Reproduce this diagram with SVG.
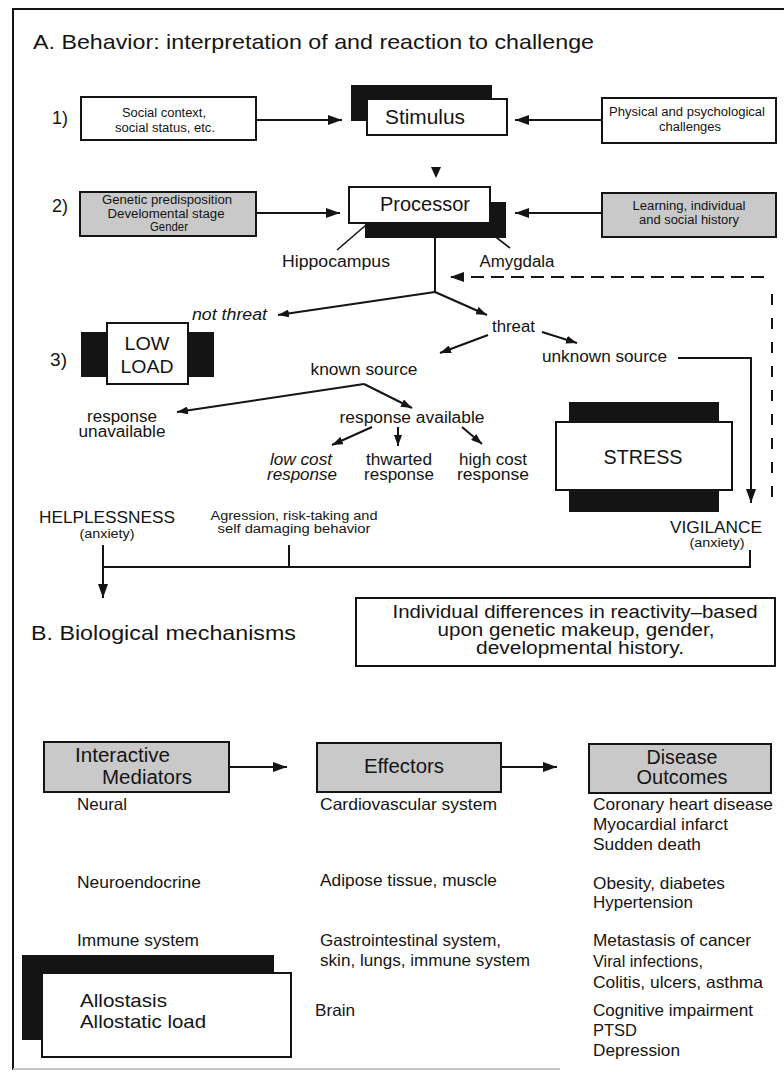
<svg xmlns="http://www.w3.org/2000/svg" width="784" height="1079" viewBox="0 0 784 1079">
<defs>
<style>
text{font-family:"Liberation Sans",Arial,Helvetica,sans-serif;fill:#141414;}
.t20{font-size:21px}
.t19{font-size:20px}
.t18{font-size:19px}
.t17{font-size:18px}
.t15{font-size:16px}
.t16{font-size:16.5px}
.t12{font-size:12.5px}
.t11{font-size:12px}
.it{font-style:italic}
.m{text-anchor:middle}
.box{fill:#fff;stroke:#141414;stroke-width:2}
.gbox{fill:#c9c9c9;stroke:#141414;stroke-width:2}
.blk{fill:#141414}
.ln{fill:none;stroke:#141414;stroke-width:2}
.ln15{fill:none;stroke:#141414;stroke-width:1.6}
.dash{fill:none;stroke:#141414;stroke-width:2}
</style>
<marker id="big" viewBox="0 0 14 10" refX="14" refY="5" markerWidth="14" markerHeight="10" markerUnits="userSpaceOnUse" orient="auto"><path d="M0,0 L14,5 L0,10 z" fill="#141414"/></marker>
<marker id="sm" viewBox="0 0 11 8" refX="11" refY="4" markerWidth="11" markerHeight="8" markerUnits="userSpaceOnUse" orient="auto"><path d="M0,0 L11,4 L0,8 z" fill="#141414"/></marker>
</defs>
<rect width="784" height="1079" fill="#fff"/>
<g id="frame">
<path d="M784,9 H13 V1070" fill="none" stroke="#141414" stroke-width="2"/>
<path d="M13,1069 H560" fill="none" stroke="#c4c4c4" stroke-width="2"/>
</g>
<g id="titles">
<text class="t20" x="33" y="49" textLength="561" lengthAdjust="spacingAndGlyphs">A. Behavior: interpretation of and reaction to challenge</text>
<text class="t17" x="52" y="124" textLength="16" lengthAdjust="spacingAndGlyphs">1)</text>
<text class="t17" x="52" y="212" textLength="16" lengthAdjust="spacingAndGlyphs">2)</text>
<text class="t17" x="50" y="366" textLength="17" lengthAdjust="spacingAndGlyphs">3)</text>
<text class="t20" x="31" y="640" textLength="265" lengthAdjust="spacingAndGlyphs">B. Biological mechanisms</text>
</g>
<g id="connectors">
<line class="ln" x1="256" y1="120" x2="342" y2="120" marker-end="url(#big)"/>
<line class="ln" x1="602" y1="120" x2="515" y2="120" marker-end="url(#big)"/>
<polygon points="431,167 441,167 436,178" fill="#141414"/>
<line class="ln" x1="256" y1="213" x2="340" y2="213" marker-end="url(#big)"/>
<line class="ln" x1="602" y1="213" x2="515" y2="213" marker-end="url(#big)"/>
<line class="ln15" x1="380" y1="213" x2="337" y2="250"/>
<line class="ln15" x1="470" y1="217" x2="510" y2="248"/>
<line class="ln" x1="435" y1="238" x2="435" y2="292"/>
<line class="ln" x1="435" y1="292" x2="278" y2="315" marker-end="url(#sm)"/>
<line class="ln" x1="435" y1="292" x2="487" y2="315" marker-end="url(#sm)"/>
<line class="ln" x1="488" y1="335" x2="440" y2="353" marker-end="url(#sm)"/>
<line class="ln" x1="542" y1="332" x2="577" y2="343" marker-end="url(#sm)"/>
<path class="ln" d="M678,358 H751 V503" marker-end="url(#big)"/>
<path class="dash" d="M772,497 V281" stroke-dasharray="11,13"/>
<path class="dash" d="M764,277 H450" stroke-dasharray="13,7" marker-end="url(#big)"/>
<line class="ln" x1="364" y1="384" x2="177" y2="412" marker-end="url(#sm)"/>
<line class="ln" x1="364" y1="384" x2="412" y2="408" marker-end="url(#sm)"/>
<line class="ln" x1="372" y1="427" x2="332" y2="445" marker-end="url(#sm)"/>
<line class="ln" x1="398" y1="427" x2="398" y2="446" marker-end="url(#sm)"/>
<line class="ln" x1="462" y1="427" x2="482" y2="444" marker-end="url(#sm)"/>
<path class="ln" d="M103,545 V598" marker-end="url(#big)"/>
<path class="ln" d="M103,567 H750 V550"/>
<path class="ln" d="M289,545 V567"/>
<line class="ln" x1="229" y1="767" x2="287" y2="767" marker-end="url(#big)"/>
<line class="ln" x1="501" y1="767" x2="557" y2="767" marker-end="url(#big)"/>
</g>
<g id="social">
<rect class="box" x="81" y="97" width="175" height="43"/>
<text class="t12 m" x="164" y="117" textLength="84" lengthAdjust="spacingAndGlyphs">Social context,</text>
<text class="t12 m" x="165" y="132" textLength="100" lengthAdjust="spacingAndGlyphs">social status, etc.</text>
</g>
<g id="stimulus">
<rect class="blk" x="351" y="85" width="141" height="36"/>
<rect class="box" x="367" y="99" width="140" height="36"/>
<text class="t19 m" x="425" y="124" textLength="80" lengthAdjust="spacingAndGlyphs">Stimulus</text>
</g>
<g id="physical">
<rect class="box" x="602" y="98" width="174" height="45"/>
<text class="t12 m" x="687" y="116" textLength="156" lengthAdjust="spacingAndGlyphs">Physical and psychological</text>
<text class="t12 m" x="690" y="131" textLength="62" lengthAdjust="spacingAndGlyphs">challenges</text>
</g>
<g id="genetic">
<rect class="gbox" x="80" y="192" width="176" height="44"/>
<text class="t12 m" x="167" y="204" textLength="130" lengthAdjust="spacingAndGlyphs">Genetic predisposition</text>
<text class="t12 m" x="166" y="218" textLength="117" lengthAdjust="spacingAndGlyphs">Develomental stage</text>
<text class="t12 m" x="169" y="231" textLength="38" lengthAdjust="spacingAndGlyphs">Gender</text>
</g>
<g id="processor">
<rect class="blk" x="365" y="202" width="141" height="36"/>
<rect class="box" x="349" y="187" width="141" height="36"/>
<text class="t19 m" x="425" y="211" textLength="90" lengthAdjust="spacingAndGlyphs">Processor</text>
</g>
<g id="learning">
<rect class="gbox" x="602" y="193" width="174" height="44"/>
<text class="t12 m" x="689" y="210" textLength="113" lengthAdjust="spacingAndGlyphs">Learning, individual</text>
<text class="t12 m" x="689" y="224" textLength="100" lengthAdjust="spacingAndGlyphs">and social history</text>
</g>
<g id="hippocampus">
<text class="t15 m" x="336" y="267" textLength="108" lengthAdjust="spacingAndGlyphs">Hippocampus</text>
</g>
<g id="amygdala">
<text class="t15 m" x="517" y="267" textLength="75" lengthAdjust="spacingAndGlyphs">Amygdala</text>
</g>
<g id="notthreat">
<text class="t15 it" x="192" y="320" textLength="75" lengthAdjust="spacingAndGlyphs">not threat</text>
</g>
<g id="threat">
<text class="t15" x="492" y="332" textLength="43" lengthAdjust="spacingAndGlyphs">threat</text>
</g>
<g id="unknown">
<text class="t15" x="542" y="362" textLength="125" lengthAdjust="spacingAndGlyphs">unknown source</text>
</g>
<g id="lowload">
<rect class="blk" x="81" y="332" width="133" height="45"/>
<rect class="box" x="107" y="323" width="81" height="61"/>
<text class="t18 m" x="147" y="350" textLength="45" lengthAdjust="spacingAndGlyphs">LOW</text>
<text class="t18 m" x="147" y="373" textLength="53" lengthAdjust="spacingAndGlyphs">LOAD</text>
</g>
<g id="known">
<text class="t15 m" x="364" y="375" textLength="107" lengthAdjust="spacingAndGlyphs">known source</text>
</g>
<g id="unavailable">
<text class="t15 m" x="122" y="422" textLength="70" lengthAdjust="spacingAndGlyphs">response</text>
<text class="t15 m" x="122" y="437" textLength="87" lengthAdjust="spacingAndGlyphs">unavailable</text>
</g>
<g id="available">
<text class="t15 m" x="412" y="423" textLength="145" lengthAdjust="spacingAndGlyphs">response available</text>
</g>
<g id="lowcost">
<text class="t15 m it" x="301" y="465" textLength="62" lengthAdjust="spacingAndGlyphs">low cost</text>
<text class="t15 m it" x="302" y="480" textLength="70" lengthAdjust="spacingAndGlyphs">response</text>
</g>
<g id="thwarted">
<text class="t15 m" x="399" y="465" textLength="66" lengthAdjust="spacingAndGlyphs">thwarted</text>
<text class="t15 m" x="399" y="480" textLength="70" lengthAdjust="spacingAndGlyphs">response</text>
</g>
<g id="highcost">
<text class="t15 m" x="493" y="465" textLength="68" lengthAdjust="spacingAndGlyphs">high cost</text>
<text class="t15 m" x="493" y="480" textLength="72" lengthAdjust="spacingAndGlyphs">response</text>
</g>
<g id="stress">
<rect class="blk" x="569" y="402" width="150" height="110"/>
<rect class="box" x="556" y="422" width="176" height="68"/>
<text class="t19 m" x="643" y="464" textLength="79" lengthAdjust="spacingAndGlyphs">STRESS</text>
</g>
<g id="helplessness">
<text class="t15 m" x="107" y="523" textLength="136" lengthAdjust="spacingAndGlyphs">HELPLESSNESS</text>
<text class="t11 m" x="107" y="538" textLength="55" lengthAdjust="spacingAndGlyphs">(anxiety)</text>
</g>
<g id="agression">
<text class="t12 m" x="294" y="520" textLength="167" lengthAdjust="spacingAndGlyphs">Agression, risk-taking and</text>
<text class="t12 m" x="294" y="533" textLength="153" lengthAdjust="spacingAndGlyphs">self damaging behavior</text>
</g>
<g id="vigilance">
<text class="t15 m" x="716" y="533" textLength="92" lengthAdjust="spacingAndGlyphs">VIGILANCE</text>
<text class="t11 m" x="717" y="547" textLength="55" lengthAdjust="spacingAndGlyphs">(anxiety)</text>
</g>
<g id="individual">
<rect class="box" x="356" y="598" width="419" height="68"/>
<text class="t17 m" x="575" y="618" textLength="365" lengthAdjust="spacingAndGlyphs">Individual differences in reactivity–based</text>
<text class="t17 m" x="576" y="636" textLength="277" lengthAdjust="spacingAndGlyphs">upon genetic makeup, gender,</text>
<text class="t17 m" x="580" y="654" textLength="208" lengthAdjust="spacingAndGlyphs">developmental history.</text>
</g>
<g id="mediators">
<rect class="gbox" x="44" y="742" width="185" height="50"/>
<text class="t19" x="75" y="762" textLength="95" lengthAdjust="spacingAndGlyphs">Interactive</text>
<text class="t19" x="102" y="784" textLength="90" lengthAdjust="spacingAndGlyphs">Mediators</text>
<text class="t16" x="77" y="810" textLength="50" lengthAdjust="spacingAndGlyphs">Neural</text>
<text class="t16" x="77" y="888" textLength="124" lengthAdjust="spacingAndGlyphs">Neuroendocrine</text>
<text class="t16" x="77" y="946" textLength="122" lengthAdjust="spacingAndGlyphs">Immune system</text>
</g>
<g id="effectors">
<rect class="gbox" x="317" y="743" width="184" height="49"/>
<text class="t19 m" x="404" y="773" textLength="80" lengthAdjust="spacingAndGlyphs">Effectors</text>
<text class="t16" x="320" y="810" textLength="177" lengthAdjust="spacingAndGlyphs">Cardiovascular system</text>
<text class="t16" x="320" y="886" textLength="177" lengthAdjust="spacingAndGlyphs">Adipose tissue, muscle</text>
<text class="t16" x="320" y="946" textLength="181" lengthAdjust="spacingAndGlyphs">Gastrointestinal system,</text>
<text class="t16" x="320" y="966" textLength="210" lengthAdjust="spacingAndGlyphs">skin, lungs, immune system</text>
<text class="t16" x="315" y="1016" textLength="40" lengthAdjust="spacingAndGlyphs">Brain</text>
</g>
<g id="outcomes">
<rect class="gbox" x="589" y="744" width="182" height="49"/>
<text class="t19 m" x="682" y="764" textLength="71" lengthAdjust="spacingAndGlyphs">Disease</text>
<text class="t19 m" x="682" y="784" textLength="91" lengthAdjust="spacingAndGlyphs">Outcomes</text>
<text class="t16" x="593" y="810" textLength="180" lengthAdjust="spacingAndGlyphs">Coronary heart disease</text>
<text class="t16" x="593" y="830" textLength="135" lengthAdjust="spacingAndGlyphs">Myocardial infarct</text>
<text class="t16" x="593" y="850" textLength="108" lengthAdjust="spacingAndGlyphs">Sudden death</text>
<text class="t16" x="593" y="889" textLength="132" lengthAdjust="spacingAndGlyphs">Obesity, diabetes</text>
<text class="t16" x="593" y="908" textLength="100" lengthAdjust="spacingAndGlyphs">Hypertension</text>
<text class="t16" x="593" y="946" textLength="158" lengthAdjust="spacingAndGlyphs">Metastasis of cancer</text>
<text class="t16" x="593" y="967" textLength="110" lengthAdjust="spacingAndGlyphs">Viral infections,</text>
<text class="t16" x="593" y="988" textLength="170" lengthAdjust="spacingAndGlyphs">Colitis, ulcers, asthma</text>
<text class="t16" x="593" y="1016" textLength="160" lengthAdjust="spacingAndGlyphs">Cognitive impairment</text>
<text class="t16" x="593" y="1036" textLength="44" lengthAdjust="spacingAndGlyphs">PTSD</text>
<text class="t16" x="593" y="1056" textLength="87" lengthAdjust="spacingAndGlyphs">Depression</text>
</g>
<g id="allostasis">
<rect class="blk" x="22" y="955" width="252" height="85"/>
<rect class="box" x="42" y="973" width="249" height="84"/>
<text class="t18" x="80" y="1007" textLength="87" lengthAdjust="spacingAndGlyphs">Allostasis</text>
<text class="t18" x="80" y="1028" textLength="126" lengthAdjust="spacingAndGlyphs">Allostatic load</text>
</g>
</svg>
